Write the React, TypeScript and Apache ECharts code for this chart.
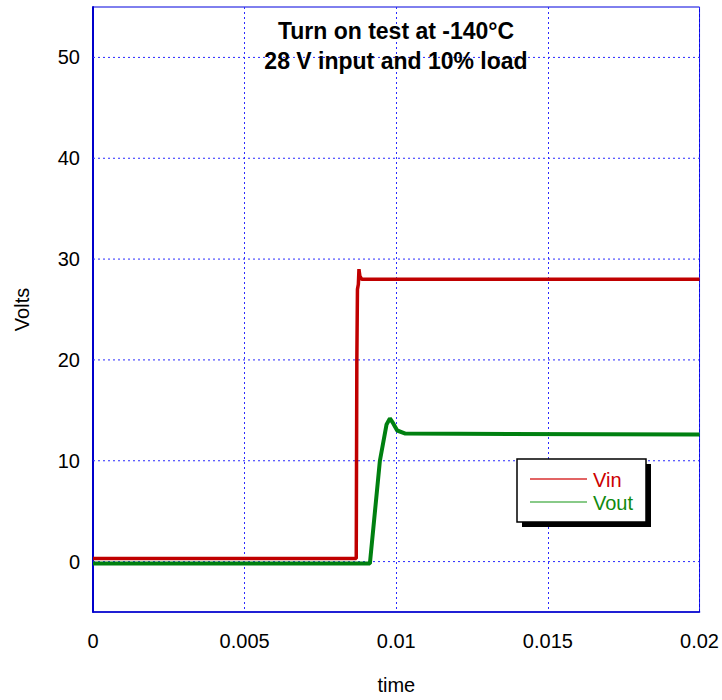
import React, { useEffect, useRef } from "react";
import * as echarts from "echarts";

const titleLines = ["Turn on test at -140°C", "28 V input and 10% load"];
const xTicks = [0, 0.005, 0.01, 0.015, 0.02];
const yTicks = [0, 10, 20, 30, 40, 50];

const vinTime = [0, 0.00868, 0.0087, 0.00872, 0.00875, 0.00877, 0.0088, 0.00886, 0.02];
const vinVal = [0.3, 0.3, 20, 27, 27.5, 29, 28.3, 28, 28];

const voutTime = [0, 0.00913, 0.00946, 0.00968, 0.00979, 0.0099, 0.01003, 0.0103, 0.02];
const voutVal = [-0.2, -0.2, 10, 13.6, 14.2, 13.7, 13.0, 12.7, 12.6];

const FONT = "'Liberation Sans', Arial, sans-serif";
const GRID_COLOR = "#2a2aff";

export default function App() {
  const ref = useRef<HTMLDivElement>(null);
  useEffect(() => {
    if (!ref.current) return;
    const chart = echarts.init(ref.current, null, { renderer: "svg" });
    const vin = vinTime.map((t, i) => [t, vinVal[i]]);
    const vout = voutTime.map((t, i) => [t, voutVal[i]]);
    const xMin = xTicks[0];
    const xMax = xTicks[xTicks.length - 1];
    const gridSeries = yTicks.map((v) => ({
      name: "grid" + v,
      type: "line",
      data: [
        [xMin, v],
        [xMax, v],
      ],
      silent: true,
      showSymbol: false,
      color: GRID_COLOR,
      lineStyle: { color: GRID_COLOR, width: 1, type: [2, 3] },
      z: 1,
    }));
    chart.setOption({
      animation: false,
      backgroundColor: "#ffffff",
      grid: { left: 93, top: 7, width: 607, height: 606, show: true, borderColor: "#0000dd", borderWidth: 1 },
      xAxis: {
        type: "value",
        min: xMin,
        max: xMax,
        interval: 0.005,
        name: "time",
        nameLocation: "middle",
        nameGap: 63,
        nameTextStyle: { fontFamily: FONT, fontSize: 20, color: "#000" },
        axisLine: { show: true, onZero: false, lineStyle: { color: "#0000cc", width: 1.5 } },
        axisTick: { show: false },
        axisLabel: {
          fontFamily: FONT,
          fontSize: 20,
          color: "#000",
          margin: 19,
          formatter: (v: number) => {
            const r = Number(v.toFixed(3));
            return xTicks.includes(r) ? String(r) : "";
          },
        },
        splitLine: { show: true, lineStyle: { color: GRID_COLOR, width: 1, type: [2, 3] } },
      },
      yAxis: {
        type: "value",
        min: -5,
        max: 55,
        interval: 5,
        name: "Volts",
        nameLocation: "middle",
        nameGap: 61,
        nameTextStyle: { fontFamily: FONT, fontSize: 20, color: "#000" },
        axisLine: { show: true, onZero: false, lineStyle: { color: "#0000cc", width: 2 } },
        axisTick: { show: false },
        axisLabel: {
          fontFamily: FONT,
          fontSize: 20,
          color: "#000",
          margin: 13,
          formatter: (v: number) => (yTicks.includes(v) ? String(v) : ""),
        },
        splitLine: { show: false },
      },
      series: [
        ...gridSeries,
        {
          name: "Vin",
          type: "line",
          data: vin,
          showSymbol: false,
          lineStyle: { color: "#c00000", width: 3.5 },
          itemStyle: { color: "#c00000" },
          z: 3,
        },
        {
          name: "Vout",
          type: "line",
          data: vout,
          showSymbol: false,
          lineStyle: { color: "#008010", width: 4 },
          itemStyle: { color: "#008010" },
          z: 4,
        },
      ],
      graphic: [
        {
          type: "text",
          x: 396,
          y: 16,
          style: {
            text: titleLines.join("\n"),
            fontFamily: FONT,
            fontSize: 23,
            fontWeight: "bold",
            fill: "#000",
            align: "center",
            lineHeight: 30,
          },
          z: 10,
        },
        { type: "rect", shape: { x: 522, y: 464, width: 129, height: 63 }, style: { fill: "#000" }, z: 10 },
        {
          type: "rect",
          shape: { x: 517, y: 459, width: 129, height: 63 },
          style: { fill: "#fff", stroke: "#000", lineWidth: 1.5 },
          z: 11,
        },
        { type: "line", shape: { x1: 530, y1: 479, x2: 587, y2: 479 }, style: { stroke: "#d83030", lineWidth: 1.5 }, z: 12 },
        { type: "line", shape: { x1: 530, y1: 502, x2: 587, y2: 502 }, style: { stroke: "#60b860", lineWidth: 1.5 }, z: 12 },
        {
          type: "text",
          x: 593,
          y: 480,
          style: { text: "Vin", fontFamily: FONT, fontSize: 20, fill: "#cc0000", verticalAlign: "middle" },
          z: 12,
        },
        {
          type: "text",
          x: 593,
          y: 503,
          style: { text: "Vout", fontFamily: FONT, fontSize: 20, fill: "#108a10", verticalAlign: "middle" },
          z: 12,
        },
      ],
    });
    return () => chart.dispose();
  }, []);
  return <div ref={ref} style={{ position: "absolute", left: 0, top: 0, width: 722, height: 700 }} />;
}
